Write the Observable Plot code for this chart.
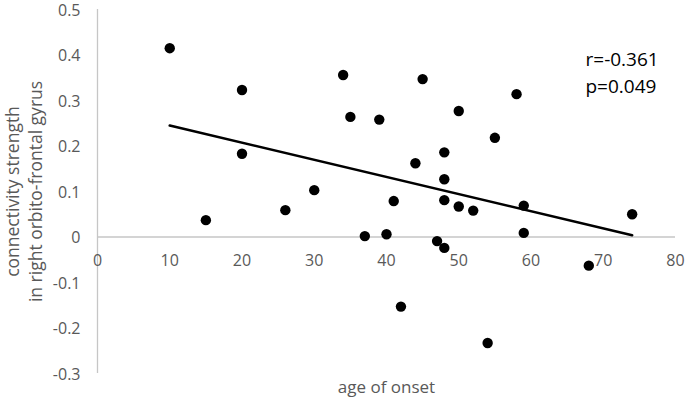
<!DOCTYPE html>
<html>
<head>
<meta charset="utf-8">
<script src="https://cdn.jsdelivr.net/npm/d3@7"></script>
<script src="https://cdn.jsdelivr.net/npm/@observablehq/plot@0.6"></script>
<style>
  html, body { margin: 0; padding: 0; background: #fff; }
  #chart { width: 685px; height: 401px; }
</style>
</head>
<body>
<div id="chart"></div>
<script>
// Data
const ageOfOnset = [10, 15, 20, 20, 26, 30, 34, 35, 37, 39, 40, 41, 42, 44, 45, 47, 48, 48, 48, 48, 50, 50, 52, 54, 55, 58, 59, 59, 68, 74];
const connectivity = [0.415, 0.037, 0.323, 0.183, 0.059, 0.103, 0.356, 0.264, 0.002, 0.258, 0.006, 0.079, -0.153, 0.162, 0.347, -0.009, 0.186, 0.127, 0.081, -0.024, 0.277, 0.067, 0.058, -0.233, 0.218, 0.314, 0.069, 0.009, -0.063, 0.050];
const trendX = [10, 74];
const trendY = [0.245, 0.004];
const xTicks = [0, 10, 20, 30, 40, 50, 60, 70, 80];
const yTicks = [-0.3, -0.2, -0.1, 0, 0.1, 0.2, 0.3, 0.4, 0.5];
const statsText = "r=-0.361\np=0.049";
const xTitle = "age of onset";
const yTitle = "connectivity strength\nin right orbito-frontal gyrus";

const points = ageOfOnset.map((a, i) => ({age: a, conn: connectivity[i]}));
const trend = trendX.map((x, i) => ({age: x, conn: trendY[i]}));

const gray = "#595959";
const axisGray = "#c6c6c6";
const font = "'Open Sans', sans-serif";

const chart = Plot.plot({
  width: 685,
  height: 401,
  marginLeft: 97,
  marginRight: 10,
  marginTop: 9,
  marginBottom: 28,
  style: {fontFamily: font, background: "#fff"},
  x: {domain: [0, 80], axis: null},
  y: {domain: [-0.3, 0.5], axis: null},
  marks: [
    Plot.ruleY([0], {stroke: axisGray, strokeWidth: 1.3}),
    Plot.ruleX([0], {stroke: axisGray, strokeWidth: 1.3}),
    Plot.axisY(yTicks, {
      tickSize: 0, tickPadding: 17, fontSize: 16, fill: gray, dy: 1,
      tickFormat: d => String(+d.toFixed(1)), label: null
    }),
    Plot.text(xTicks, {x: d => d, y: () => 0, dy: 24, text: d => String(d), fontSize: 16, fill: gray}),
    Plot.line(trend, {x: "age", y: "conn", stroke: "#000", strokeWidth: 2.6}),
    Plot.dot(points, {x: "age", y: "conn", r: 5.2, fill: "#000", stroke: "none"}),
    Plot.text([statsText], {frameAnchor: "top-right", dx: -90, dy: 37, text: d => d, fontSize: 19, fill: "#000", textAnchor: "start", lineHeight: 1.42, lineAnchor: "top"}),
    Plot.text([xTitle], {frameAnchor: "bottom", dy: 19, text: d => d, fontSize: 17, fill: gray}),
    Plot.text([yTitle], {frameAnchor: "left", dx: -74.5, rotate: -90, text: d => d, fontSize: 17.5, fill: gray, lineHeight: 1.32, lineAnchor: "middle", textAnchor: "middle"})
  ]
});
document.getElementById("chart").appendChild(chart);
</script>
</body>
</html>
